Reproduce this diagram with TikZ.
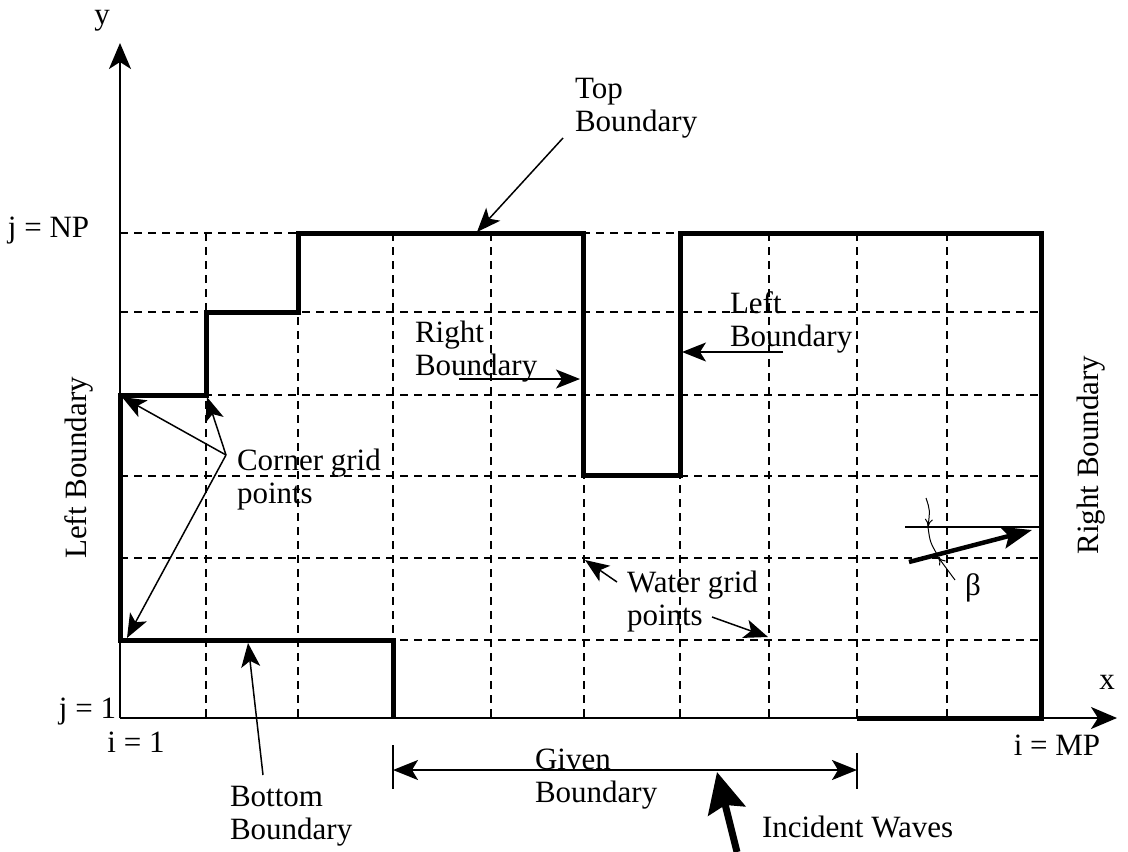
\documentclass[tikz,border=0pt]{standalone}
\usepackage{fontspec}
\setmainfont{Liberation Serif}
\usetikzlibrary{arrows.meta}
\begin{document}
\begin{tikzpicture}[x=1pt,y=-1pt,
  every node/.style={font=\fontsize{31}{33}\selectfont, inner sep=0pt, outer sep=0pt},
  lbl/.style={align=left, anchor=west},
  gridline/.style={line width=2pt, dash pattern=on 8pt off 6pt},
  bnd/.style={line width=5pt, line join=miter},
  axis/.style={line width=2pt, -{Stealth[length=26pt,width=22pt,inset=7pt]}},
  pointer/.style={line width=1.5pt, -{Stealth[length=24pt,width=19pt,inset=6pt]}},
  dim/.style={line width=2pt, {Stealth[length=25pt,width=20pt,inset=6pt]}-{Stealth[length=25pt,width=20pt,inset=6pt]}},
  tickline/.style={line width=1.5pt},
  wave/.style={line width=7pt, -{Stealth[length=40pt,width=38pt,inset=6pt]}},
  ray/.style={line width=4.5pt, -{Stealth[length=30pt,width=22pt,inset=6pt]}},
  anglemark/.style={line width=1pt},
  anglearrow/.style={line width=1pt, -{To[length=8pt,width=8pt]}}]
\useasboundingbox (0,0) rectangle (1128,852);

% grid
\foreach \gx in {206,298,393,491,584,680,769,857,947}
  \draw[gridline] (\gx,233) -- (\gx,718);
\foreach \gy in {233,312,395,476,558,640}
  \draw[gridline] (120,\gy) -- (1041,\gy);

% axes
\coordinate (O) at (120,718);
\coordinate (ytip) at (120,43);
\coordinate (xtip) at (1117,718);
\draw[axis] (O) -- (ytip);
\draw[axis] (O) -- (xtip);

% boundary
\draw[bnd] (393,718) -- (393,640) -- (120,640) -- (120,395) -- (206,395) -- (206,312)
  -- (298,312) -- (298,233) -- (583,233) -- (583,475) -- (680,475) -- (680,233)
  -- (1041,233) -- (1041,718) -- (857,718);

% axis labels
\node (ylab) at (102,21) {y};
\node (xlab) at (1107,682) {x};
\node[anchor=base west] (jnp) at (8,237) {j = NP};
\node[anchor=base east] (j1) at (116,718) {j = 1};
\node (i1) at (136,742) {i = 1};
\node (imp) at (1057,745) {i = MP};

% side labels
\node[rotate=90] (leftB) at (79,468) {Left Boundary};
\node[rotate=90] (rightB) at (1091,455) {Right Boundary};

% text labels
\node[lbl] (topB) at (575,108) {Top\\Boundary};
\node[lbl] (rightMid) at (415,352) {Right\\Boundary};
\node[lbl] (leftMid) at (730,322) {Left\\Boundary};
\node[lbl] (corner) at (237,480) {Corner grid\\points};
\node[lbl] (water) at (627,602) {Water grid\\points};
\node[lbl] (given) at (535,779) {Given\\Boundary};
\node[lbl] (bottomB) at (230,816) {Bottom\\Boundary};
\node[lbl] (incident) at (762,827) {Incident Waves};
\node (beta) at (973,588) {β};

% pointer coordinates
\coordinate (topT) at (563,138);  \coordinate (topH) at (477,232);
\coordinate (rmT) at (459,379);   \coordinate (rmH) at (580,379);
\coordinate (lmT) at (783,352);   \coordinate (lmH) at (682,352);
\coordinate (cT) at (226,455);
\coordinate (c1) at (122,397); \coordinate (c2) at (207,397); \coordinate (c3) at (127,638);
\coordinate (bT) at (263,775);    \coordinate (bH) at (248,643);
\coordinate (w1T) at (617,582);   \coordinate (w1H) at (585,560);
\coordinate (w2T) at (712,617);   \coordinate (w2H) at (768,637);

\draw[pointer] (topT) -- (topH);
\draw[pointer] (rmT) -- (rmH);
\draw[pointer] (lmT) -- (lmH);
\draw[pointer] (cT) -- (c1);
\draw[pointer] (cT) -- (c2);
\draw[pointer] (cT) -- (c3);
\draw[pointer] (bT) -- (bH);
\draw[pointer] (w1T) -- (w1H);
\draw[pointer] (w2T) -- (w2H);

% given boundary dimension
\coordinate (gL) at (393,770); \coordinate (gR) at (857,770);
\draw[tickline] (393,745) -- (393,789);
\draw[tickline] (857,753) -- (857,789);
\draw[dim] (gL) -- (gR);

% incident waves
\coordinate (wT) at (737,852); \coordinate (wH) at (717,772);
\draw[wave] (wT) -- (wH);

% wave angle
\coordinate (hL) at (905,527); \coordinate (hR) at (1041,527);
\draw[line width=2pt] (hL) -- (hR);
\coordinate (rT) at (909,562); \coordinate (rH) at (1032,530);
\draw[ray] (rT) -- (rH);
\draw[anglearrow] (926,498) .. controls (930,510) .. (928,527);
\draw[anglemark] (928,527) .. controls (930,542) .. (938,556);
\draw[anglearrow] (955,580) -- (938,557);
\end{tikzpicture}
\end{document}
